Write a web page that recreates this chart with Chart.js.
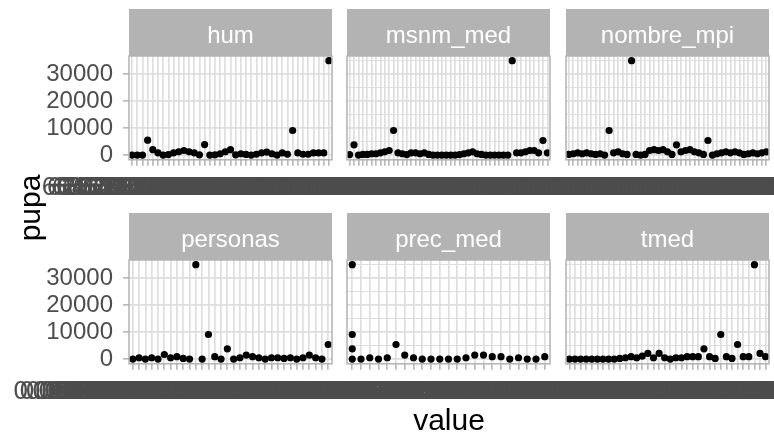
<!DOCTYPE html>
<html><head><meta charset="utf-8">
<script src="https://cdn.jsdelivr.net/npm/chart.js@4/dist/chart.umd.min.js"></script>
<style>
html,body{margin:0;padding:0;width:774px;height:436px;overflow:hidden;background:#fff;}
body{position:relative;}
canvas{position:absolute;}
</style></head>
<body>
<canvas id="bg" width="900" height="428" style="top:12px;left:0"></canvas>
<canvas id="c0" width="1300" height="200" style="top:9px;left:-100px"></canvas>
<canvas id="c1" width="1300" height="200" style="top:9px;left:-100px"></canvas>
<canvas id="c2" width="1300" height="200" style="top:9px;left:-100px"></canvas>
<canvas id="c3" width="1300" height="200" style="top:213px;left:-100px"></canvas>
<canvas id="c4" width="1300" height="200" style="top:213px;left:-100px"></canvas>
<canvas id="c5" width="1300" height="200" style="top:213px;left:-100px"></canvas>
<script>
// ---------------- data ----------------
const facetNames = ["hum", "msnm_med", "nombre_mpi", "personas", "prec_med", "tmed"];

const hum_levels = ["60.7291666667","62.1458333333","63.5208333333","64.0416666667","65.2708333333","66.1875000000","66.9166666667","67.4583333333","68.0208333333","68.7500000000",
"69.3125000000","69.8541666667","70.2291666667","70.8958333333","71.4166666667","71.9375000000","72.3541666667","72.8750000000","73.2083333333","73.6666666667",
"74.1458333333","74.5625000000","75.0208333333","75.4791666667","75.9375000000","76.3958333333","76.8333333333","77.2916666667","77.8125000000","78.3541666667",
"78.9166666667","79.5000000000","80.1041666667","80.8333333333","81.6250000000","82.4791666667","83.3958333333","84.5625000000","86.0208333333"];
const hum_pupa = [0,0,0,5500,2000,850,0,200,850,1200, 1700,1200,850,100,3900,0,100,500,1200,2000, 100,500,250,0,300,850,1100,500,0,800, 300,9100,800,300,300,800,800,800,34900];

const msnm_levels = ["1012.58333333","1047.91666667","1105.20833333","1168.75000000","1219.45833333","1287.62500000","1334.08333333","1396.29166667","1452.87500000","1518.33333333",
"1573.70833333","1629.04166667","1688.45833333","1745.12500000","1802.66666667","1866.20833333","1921.79166667","1987.37500000","2043.95833333","2108.50000000",
"2164.04166667","2229.62500000","2287.16666667","2341.70833333","2406.25000000","2465.83333333","2520.37500000","2583.91666667","2647.45833333","2701.00000000",
"2768.54166667","2822.08333333","2889.62500000","2943.16666667","3004.70833333","3068.25000000","3125.79166667","3187.33333333","3244.87500000","3306.41666667",
"3369.95833333","3421.50000000","3486.04166667","3547.58333333","3605.12500000","3668.66666667"];
const msnm_pupa = [200,3800,0,250,250,500,500,850,1200,1700, 9100,850,500,200,850,850,500,850,250,0, 0,0,0,0,0,200,500,850,1200,500, 250,0,0,0,0,0,0,34900,850,850, 1200,1700,1700,850,5400,850];

const mpi_levels = ["0.0217391304","0.0434782609","0.0652173913","0.0869565217","0.1086956522","0.1304347826","0.1521739130","0.1739130435","0.1956521739","0.2173913043",
"0.2391304348","0.2608695652","0.2826086957","0.3043478261","0.3260869565","0.3478260870","0.3695652174","0.3913043478","0.4130434783","0.4347826087",
"0.4565217391","0.4782608696","0.5000000000","0.5217391304","0.5434782609","0.5652173913","0.5869565217","0.6086956522","0.6304347826","0.6521739130",
"0.6739130435","0.6956521739","0.7173913043","0.7391304348","0.7608695652","0.7826086957","0.8043478261","0.8260869565","0.8478260870","0.8695652174",
"0.8913043478","0.9130434783","0.9347826087","0.9565217391","0.9782608696"];
const mpi_pupa = [250,500,850,500,850,500,250,500,0,9100, 850,1200,500,250,34900,250,0,250,1700,2000, 1700,2000,1200,250,3800,1200,1700,2000,1200,850, 250,5400,0,500,850,1200,850,1200,850,250, 500,850,500,850,1200];

const personas_levels = ["0.000048215386729","0.000061739045281","0.000073926415830","0.000085192730461","0.000096841327590","0.000107425693184","0.000119563847201","0.000130874126953",
"0.000142736591820","0.000154609283716","0.000167281934057","0.000179435620193","0.000191826473509","0.000204391758263","0.000217583049172","0.000230914672835",
"0.000245173826091","0.000259612483705","0.000274839102657","0.000290365718492","0.000306729481532","0.000323841506978","0.000341297635084","0.000359812743609",
"0.000379264851037","0.000399731582640","0.000421483709516","0.000444891237650","0.000470129365841","0.000498365172094","0.000531746093821","0.000574291638502"];
const personas_pupa = [0,500,0,500,0,1700,500,900,250,0, 34900,0,9100,900,0,3800,0,500,1500,900, 500,0,500,500,250,500,0,500,1500,500, 0,5400];

const prec_levels = ["1483.2916666667","1527.0833333333","1598.6250000000","1642.4583333333","1705.9166666667","1761.3750000000","1824.8333333333","1879.2916666667","1936.7500000000","1998.2083333333",
"2047.6666666667","2103.1250000000","2168.5833333333","2224.0416666667","2287.5000000000","2341.9583333333","2406.4166666667","2465.8750000000","2523.3333333333","2589.7916666667",
"2648.2500000000","2712.7083333333","2785.1666666667"];
const prec_pupa = [[34900,9100,3800,0],0,500,0,500,5400,1500,500,0,0, 0,0,0,500,1500,1500,900,900,0,500, 0,0,900];

const tmed_levels = ["13.2458333333333","13.8916666666667","14.4375000000000","14.9833333333333","15.5291666666667","16.0750000000000","16.6208333333333","17.1666666666667","17.7125000000000","18.2583333333333",
"18.8041666666667","19.3500000000000","19.8958333333333","20.4416666666667","20.9875000000000","21.5333333333333","22.0791666666667","22.6250000000000","23.1708333333333","23.7166666666667",
"24.2625000000000","24.8083333333333","25.3541666666667","25.9000000000000","26.4458333333333","26.9916666666667","27.5375000000000","28.0833333333333","28.6291666666667","29.1750000000000",
"29.7208333333333","30.2666666666667","30.8125000000000","31.3583333333333","31.9041666666667","32.4500000000000"];
const tmed_pupa = [0,0,0,0,0,0,0,0,0,250, 500,900,500,1100,2100,500,2100,500,0,500, 500,900,900,900,3800,900,250,9100,900,250, 5400,900,900,34900,2100,900];

const yTickValues = [0, 5000, 10000, 15000, 20000, 25000, 30000, 35000];
const yLabelStep = 10000;
const xTitle = "value";
const yTitle = "pupa";

// ---------------- layout / style ----------------
const FONT = "'Liberation Sans', Arial, sans-serif";
const PANEL_X = [[129, 332], [347, 550], [566, 769]];
const CW = 1300;      // canvas width
const SHIFT = 100;    // canvas is placed SHIFT px left of the page
const Y_AXIS_W = 129;

const facetLevels = [hum_levels, msnm_levels, mpi_levels, personas_levels, prec_levels, tmed_levels];
const facetPupa = [hum_pupa, msnm_pupa, mpi_pupa, personas_pupa, prec_pupa, tmed_pupa];

const allY = facetPupa.flat(2);
const dMax = Math.max(...allY), dMin = Math.min(...allY);
const yMin = dMin - 0.05 * (dMax - dMin);
const yMax = dMax + 0.05 * (dMax - dMin);

const panelDeco = {
  id: 'panelDeco',
  beforeDraw(chart) {
    const ctx = chart.ctx, a = chart.chartArea, t = chart.titleBlock;
    ctx.save();
    ctx.fillStyle = '#B3B3B3';
    ctx.fillRect(a.left, t.top, a.right - a.left, t.bottom - t.top);
    ctx.restore();
  },
  afterDatasetsDraw(chart) {
    const ctx = chart.ctx, a = chart.chartArea;
    ctx.save();
    ctx.strokeStyle = '#B3B3B3';
    ctx.lineWidth = 1.5;
    ctx.strokeRect(a.left, a.top, a.right - a.left, a.bottom - a.top);
    ctx.restore();
  }
};

facetNames.forEach((name, k) => {
  const col = k % 3;
  const labels = facetLevels[k];
  const pts = [];
  facetPupa[k].forEach((v, i) => [].concat(v).forEach(y => pts.push({x: i, y: y})));
  const [x0, x1] = PANEL_X[col];
  new Chart(document.getElementById('c' + k), {
    type: 'scatter',
    data: { datasets: [{ data: pts, pointRadius: 3.6, pointBackgroundColor: '#000', pointBorderWidth: 0, showLine: false }] },
    plugins: [panelDeco],
    options: {
      responsive: false, animation: false, devicePixelRatio: 1,
      layout: { padding: { left: x0 + SHIFT - Y_AXIS_W, right: CW - SHIFT - x1, top: 0, bottom: 0 } },
      plugins: {
        legend: { display: false }, tooltip: { enabled: false },
        title: { display: true, text: name, color: '#FFFFFF', fullSize: false,
                 font: { family: FONT, size: 24, weight: 'normal' }, padding: { top: 13.3, bottom: 4.9 } }
      },
      scales: {
        x: {
          type: 'linear', bounds: 'data', min: -0.6, max: labels.length - 0.4,
          afterBuildTicks: s => { s.ticks = labels.map((_, i) => ({ value: i })); },
          ticks: { autoSkip: false, maxRotation: 0, minRotation: 0, includeBounds: false,
                   callback: v => labels[Math.round(v)], color: '#4D4D4D',
                   font: { family: FONT, size: 26 }, padding: 6 },
          grid: { color: '#DEDEDE', lineWidth: 1.7, drawTicks: true, tickLength: 6, tickColor: '#B3B3B3', tickWidth: 1.5 },
          border: { display: false }
        },
        y: {
          type: 'linear', bounds: 'data', min: yMin, max: yMax,
          afterBuildTicks: s => { s.ticks = yTickValues.map(v => ({ value: v })); },
          afterFit: s => { s.width = Y_AXIS_W; },
          ticks: { display: col === 0, includeBounds: false,
                   callback: v => (v % yLabelStep === 0 ? String(v) : ''),
                   color: '#4D4D4D', font: { family: FONT, size: 24 }, padding: 10 },
          grid: { color: '#DEDEDE',
                  lineWidth: c => (c.tick && c.tick.value % yLabelStep === 0 ? 1.7 : 1),
                  drawTicks: col === 0, tickLength: 6,
                  tickColor: c => (c.tick && c.tick.value % yLabelStep === 0 ? '#B3B3B3' : 'rgba(0,0,0,0)'),
                  tickWidth: 1.5 },
          border: { display: false }
        }
      }
    }
  });
});

// axis titles (shared)
new Chart(document.getElementById('bg'), {
  type: 'scatter',
  data: { datasets: [] },
  options: {
    responsive: false, animation: false, devicePixelRatio: 1,
    layout: { padding: { left: 14, right: 52, top: 0, bottom: 0 } },
    plugins: { legend: { display: false }, tooltip: { enabled: false } },
    scales: {
      x: { min: 0, max: 1, ticks: { display: false }, grid: { display: false, drawTicks: false }, border: { display: false },
           title: { display: true, text: xTitle, color: '#000', font: { family: FONT, size: 30 }, padding: 0 } },
      y: { min: 0, max: 1, ticks: { display: false }, grid: { display: false, drawTicks: false }, border: { display: false },
           title: { display: true, text: yTitle, color: '#000', font: { family: FONT, size: 30 }, padding: 0 } }
    }
  }
});
</script>
</body></html>
